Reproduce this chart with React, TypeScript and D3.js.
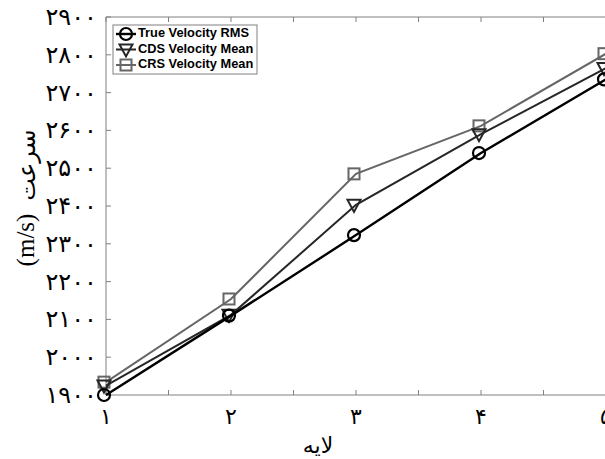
import React from "react";
import * as d3 from "d3";

const layers = [1, 2, 3, 4, 5];
const trueRms = [1900, 2110, 2323, 2540, 2735];
const cdsMean = [1925, 2112, 2403, 2590, 2765];
const crsMean = [1934, 2154, 2485, 2612, 2803];
const yTicks = [1900, 2000, 2100, 2200, 2300, 2400, 2500, 2600, 2700, 2800, 2900];
const xTicks = [1, 2, 3, 4, 5];
const xMinorTicks = [1.5, 2.5, 3.5, 4.5];
const legendLabels = ["True Velocity RMS", "CDS Velocity Mean", "CRS Velocity Mean"];

const toFa = (n: number) =>
  String(n).replace(/[0-9]/g, (d) => "۰۱۲۳۴۵۶۷۸۹"[+d]);

const W = 605;
const H = 459;
const L = 106, R = 606, T = 17, B = 395;

export default function App() {
  const x = d3.scaleLinear().domain([1, 5]).range([L, R]);
  const y = d3.scaleLinear().domain([1900, 2900]).range([B, T]);
  const line = d3
    .line<number>()
    .x((_, i) => x(layers[i]))
    .y((d) => y(d));

  const axisColor = "#808080";
  const faFont = "'DejaVu Sans', sans-serif";

  const circle = (cx: number, cy: number, color: string, key: any) => (
    <circle key={key} cx={cx} cy={cy} r={6} fill="none" stroke={color} strokeWidth={2.2} />
  );
  const tri = (cx: number, cy: number, color: string, key: any) => (
    <path
      key={key}
      d={`M${cx - 6.5},${cy - 5} L${cx + 6.5},${cy - 5} L${cx},${cy + 7} Z`}
      fill="none"
      stroke={color}
      strokeWidth={2}
    />
  );
  const sq = (cx: number, cy: number, color: string, key: any) => (
    <rect key={key} x={cx - 5.5} y={cy - 5.5} width={11} height={11} fill="none" stroke={color} strokeWidth={2} />
  );

  const series = [
    { data: crsMean, color: "#666666", width: 2, marker: sq },
    { data: cdsMean, color: "#262626", width: 2, marker: tri },
    { data: trueRms, color: "#000000", width: 2.4, marker: circle },
  ];
  const legendSeries = [series[2], series[1], series[0]];

  return (
    <svg
      width={W}
      height={H}
      style={{ position: "absolute", left: 0, top: 0, background: "#fff" }}
    >
      <rect x={0} y={0} width={W} height={H} fill="#fff" />
      {/* axes frame */}
      <line x1={L} x2={L} y1={T} y2={B} stroke={axisColor} strokeWidth={1} />
      <line x1={L} x2={W} y1={B} y2={B} stroke={axisColor} strokeWidth={1} />
      <line x1={L} x2={W} y1={T} y2={T} stroke={axisColor} strokeWidth={1} />
      {yTicks.map((t) => (
        <g key={"yt" + t}>
          <line x1={L} x2={L + 5} y1={y(t)} y2={y(t)} stroke={axisColor} />
          <text
            x={97}
            y={y(t) + 1}
            textAnchor="end"
            dominantBaseline="middle"
            fontFamily={faFont}
            fontSize={24}
            fill="#000"
            direction="ltr"
          >
            {toFa(t)}
          </text>
        </g>
      ))}
      {[...xTicks, ...xMinorTicks].map((t) => (
        <g key={"xt" + t}>
          <line x1={x(t)} x2={x(t)} y1={B} y2={B - 5} stroke={axisColor} />
          <line x1={x(t)} x2={x(t)} y1={T} y2={T + 5} stroke={axisColor} />
        </g>
      ))}
      {xTicks.map((t) => (
        <text
          key={"xl" + t}
          x={x(t)}
          y={418}
          textAnchor="middle"
          dominantBaseline="middle"
          fontFamily={faFont}
          fontSize={22}
          fill="#000"
        >
          {toFa(t)}
        </text>
      ))}
      {/* axis labels */}
      <text
        x={318}
        y={447}
        textAnchor="middle"
        dominantBaseline="middle"
        fontFamily={faFont}
        fontSize={22}
        fill="#000"
      >
        لایه
      </text>
      <g transform="translate(28,0) rotate(-90)">
        <text
          x={-165}
          y={0}
          textAnchor="middle"
          dominantBaseline="middle"
          fontFamily={faFont}
          fontSize={24}
          fill="#000"
        >
          سرعت
        </text>
        <text
          x={-240}
          y={0}
          textAnchor="middle"
          dominantBaseline="middle"
          fontFamily="'Liberation Serif', serif"
          fontSize={25}
          fill="#000"
        >
          (m/s)
        </text>
      </g>
      {/* series */}
      {series.map((s, si) => (
        <g key={"s" + si}>
          <path d={line(s.data) || ""} fill="none" stroke={s.color} strokeWidth={s.width} />
          {s.data.map((v, i) => s.marker(x(layers[i]) - 2, y(v), s.color, i))}
        </g>
      ))}
      {/* legend */}
      <rect x={113} y={25} width={144} height={49} fill="#fff" stroke={axisColor} strokeWidth={1} />
      {legendSeries.map((s, i) => {
        const ly = 34 + i * 15.5;
        return (
          <g key={"lg" + i}>
            <line x1={116} x2={136} y1={ly} y2={ly} stroke={s.color} strokeWidth={s.width} />
            {s.marker(126, ly, s.color, "m")}
            <text
              x={138}
              y={ly}
              dominantBaseline="middle"
              fontFamily="'Liberation Sans', Arial, sans-serif"
              fontWeight="bold"
              fontSize={12.8}
              fill="#000"
            >
              {legendLabels[i]}
            </text>
          </g>
        );
      })}
    </svg>
  );
}
